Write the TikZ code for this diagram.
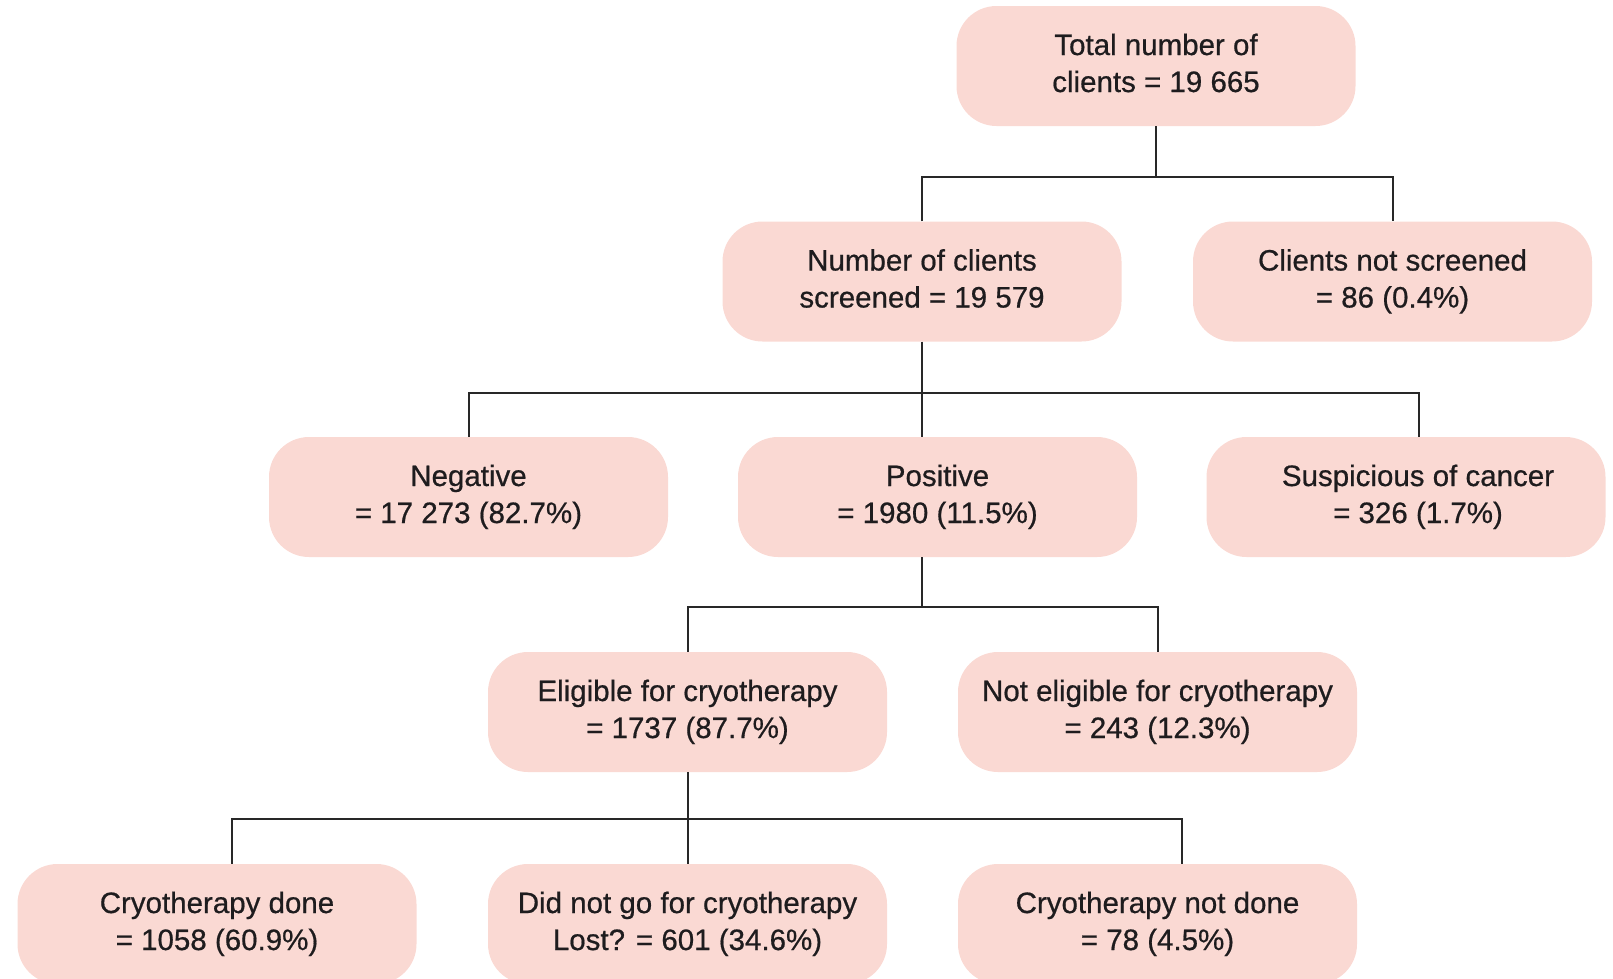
\documentclass[tikz,border=0pt]{standalone}
\usepackage{fontspec}
\setmainfont{Liberation Sans}
\definecolor{boxpink}{RGB}{250,217,211}
\definecolor{txtcol}{RGB}{30,28,30}
\definecolor{lncol}{RGB}{40,40,40}
\newcommand{\twoline}[2]{\rule{0pt}{22pt}#1\\#2\rule[-7pt]{0pt}{7pt}}
\begin{document}
\begin{tikzpicture}[x=1pt,y=-1pt,
  box/.style={rectangle, rounded corners=40pt, fill=boxpink, minimum width=399pt,
    minimum height=120pt, align=center, text=txtcol, inner sep=0pt,
    font=\fontsize{29.5}{37}\selectfont\addfontfeature{FakeBold=0.6}},
  conn/.style={draw=lncol, line width=2pt}]
\useasboundingbox (0,0) rectangle (1613,978);

% bus levels
\coordinate (b1) at (0,177);
\coordinate (b2) at (0,393);
\coordinate (b3) at (0,607);
\coordinate (b4) at (0,819);

\node[box] (total) at (1156,66) {\twoline{Total number of}{clients = 19 665}};
\node[box] (screened) at (922,281.5) {\twoline{Number of clients}{screened = 19 579}};
\node[box] (notscreened) at (1392.5,281.5) {\twoline{Clients not screened}{= 86 (0.4\%)}};
\node[box] (negative) at (468.5,497) {\twoline{Negative}{= 17 273 (82.7\%)}};
\node[box] (positive) at (937.5,497) {\twoline{Positive}{= 1980 (11.5\%)}};
\node[box] (suspicious) at (1406,497) {\twoline{\hspace*{24pt}Suspicious of cancer}{\hspace*{24pt}= 326 (1.7\%)}};
\node[box] (eligible) at (687.5,712) {\twoline{Eligible for cryotherapy}{= 1737 (87.7\%)}};
\node[box] (noteligible) at (1157.5,712) {\twoline{Not eligible for cryotherapy}{= 243 (12.3\%)}};
\node[box] (done) at (217,924) {\twoline{Cryotherapy done}{= 1058 (60.9\%)}};
\node[box] (didnot) at (687.5,924) {\twoline{Did not go for cryotherapy}{Lost? = 601 (34.6\%)}};
\node[box] (notdone) at (1157.5,924) {\twoline{Cryotherapy not done}{= 78 (4.5\%)}};

% offset connector ends
\coordinate (sustop) at ([xshift=13pt]suspicious.north);
\coordinate (posbot) at (screened.south |- positive.south);
\coordinate (dtop) at ([xshift=15pt]done.north);
\coordinate (ntop) at ([xshift=24.5pt]notdone.north);

% level 1
\draw[conn] (total.south) -- (total.south |- b1);
\draw[conn] (screened.north) |- (notscreened.north |- b1) -- (notscreened.north);
% level 2
\draw[conn] (screened.south) -- (screened.south |- positive.north);
\draw[conn] (negative.north) |- (sustop |- b2) -- (sustop);
% level 3
\draw[conn] (posbot) -- (posbot |- b3);
\draw[conn] (eligible.north) |- (noteligible.north |- b3) -- (noteligible.north);
% level 4
\draw[conn] (eligible.south) -- (didnot.north);
\draw[conn] (dtop) |- (ntop |- b4) -- (ntop);
\end{tikzpicture}
\end{document}
